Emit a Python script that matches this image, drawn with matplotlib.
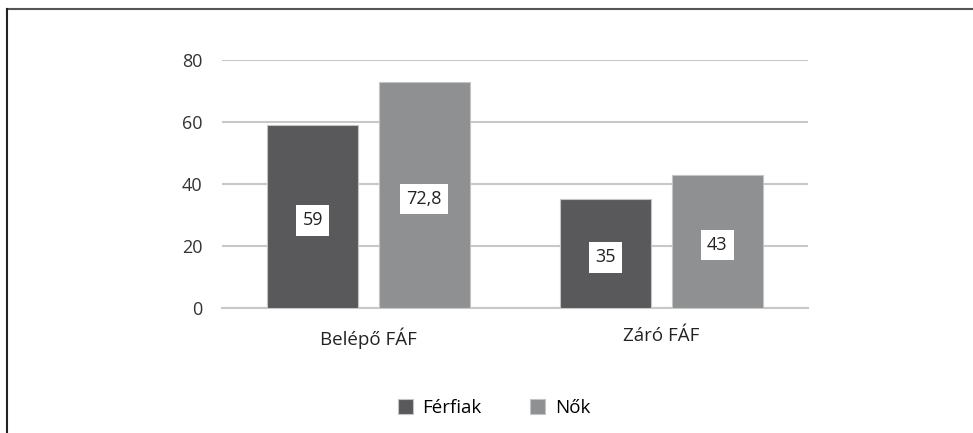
import matplotlib.pyplot as plt
import numpy as np

plt.rcParams['font.family'] = ['Open Sans', 'DejaVu Sans']

kategoriak = ['Belépő FÁF', 'Záró FÁF']
ferfiak = [59, 35]
nok = [72.8, 43]
cimkek_ferfiak = ['59', '35']
cimkek_nok = ['72,8', '43']
yticks = [0, 20, 40, 60, 80]

fig = plt.figure(figsize=(9.73, 4.33), dpi=100)
ax = fig.add_axes([222/973, 1-308/433, 586/973, 248/433])

x = np.arange(len(kategoriak))
szel = 0.31
eltol = 0.19
b1 = ax.bar(x - eltol, ferfiak, szel, color='#59595b', edgecolor='#c4c4c4',
            linewidth=0.8, label='Férfiak', zorder=3)
b2 = ax.bar(x + eltol, nok, szel, color='#8f9092', edgecolor='#c4c4c4',
            linewidth=0.8, label='Nők', zorder=3)

for bars, cimkek in ((b1, cimkek_ferfiak), (b2, cimkek_nok)):
    for r, c in zip(bars, cimkek):
        ax.text(r.get_x() + r.get_width()/2, r.get_height()/2 - 1.2, c,
                ha='center', va='center', fontsize=13, color='#222222',
                bbox=dict(facecolor='white', edgecolor='none', pad=4.5), zorder=4)

ax.set_xlim(-0.5, 1.5)
ax.set_ylim(0, 80)
ax.set_yticks(yticks)
ax.set_xticks(x)
ax.set_xticklabels(kategoriak, fontsize=13.5, color='#222222')
ax.tick_params(axis='y', labelsize=13, length=0, pad=14, colors='#333333')
ax.tick_params(axis='x', length=0, pad=14)
ax.yaxis.grid(True, color='#c8c8c8', linewidth=1.5, zorder=0)
ax.set_axisbelow(True)
for s in ax.spines.values():
    s.set_visible(False)
ax.axhline(0, color='#c8c8c8', linewidth=1.5, zorder=2, clip_on=False)

fig.legend(handles=[b1, b2], loc='center', bbox_to_anchor=(494/973, 1-408/433),
           ncol=2, frameon=False, fontsize=13.5, handlelength=0.8, handleheight=0.8,
           columnspacing=2.6, handletextpad=0.5)

# keret
fig.add_artist(plt.Line2D([7/973, 1], [1-9/433, 1-9/433], color='#555555', linewidth=1.5))
fig.add_artist(plt.Line2D([7/973, 7/973], [0, 1-9/433], color='#222222', linewidth=1.5))

fig.savefig('out.png', dpi=100)
